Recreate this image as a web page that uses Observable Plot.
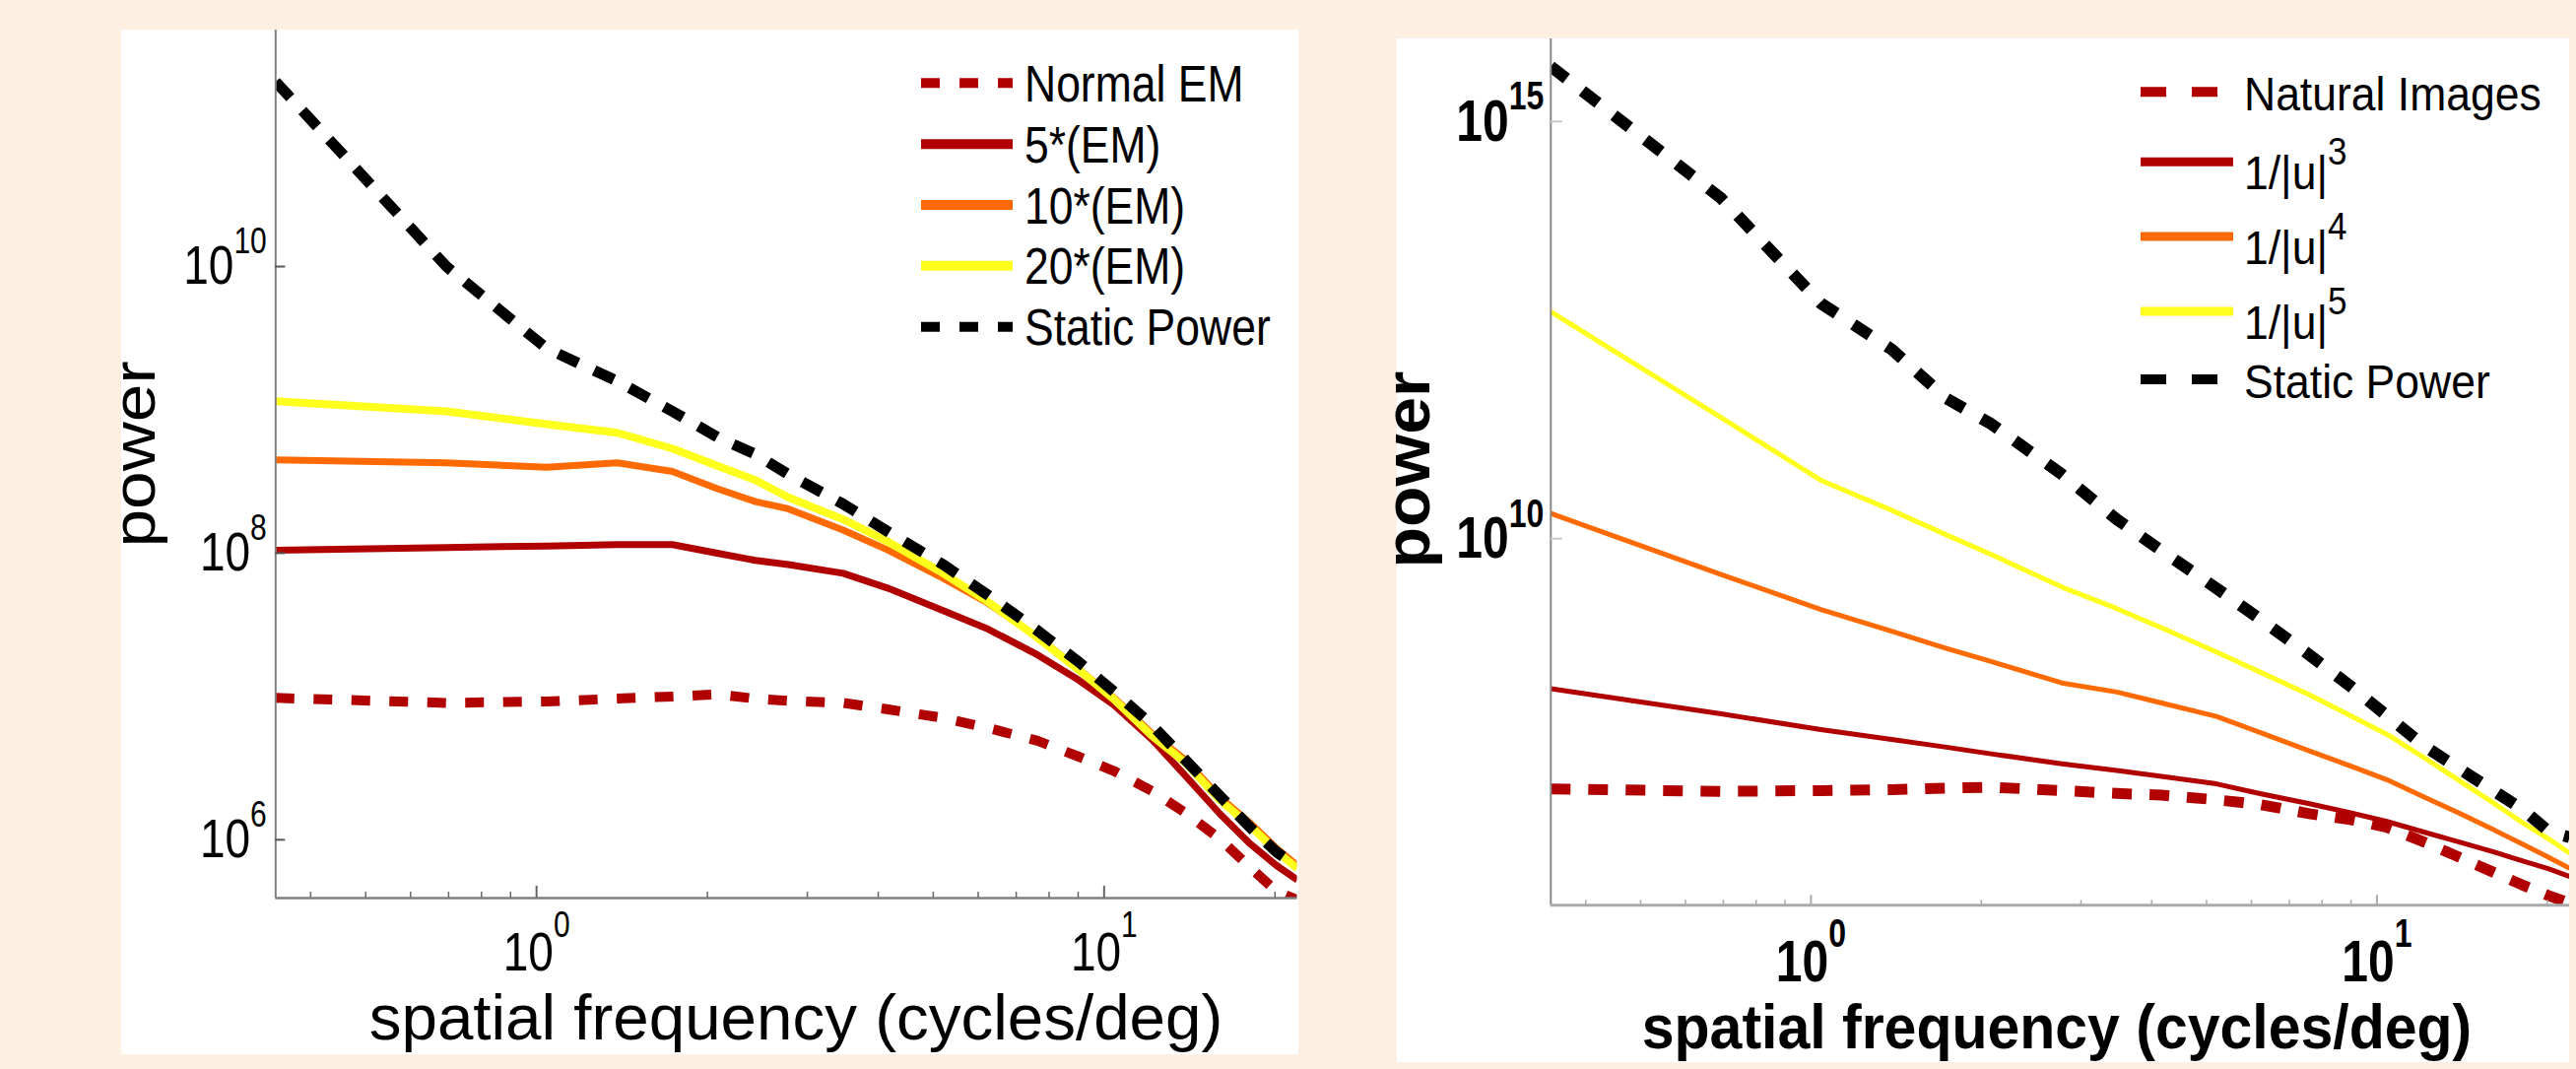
<!DOCTYPE html>
<html><head><meta charset="utf-8">
<script src="https://cdn.jsdelivr.net/npm/d3@7"></script>
<script src="https://cdn.jsdelivr.net/npm/@observablehq/plot@0.6"></script>
<style>
html,body{margin:0;padding:0;background:#fdf0e3;}
#root{position:relative;width:2615px;height:1085px;background:#fdf0e3;overflow:hidden;}
#root svg{position:absolute;display:block;}
</style></head><body><div id="root"></div>
<script>
// ---------------- DATA ----------------
// Left panel: spatial frequency (cycles/deg) and power
const freqLeft = [0.347, 0.694, 1.041, 1.388, 1.735, 2.082, 2.429, 2.776, 3.47, 4.164, 5.205, 6.246, 7.634, 9.022, 10.41, 12.145, 13.88, 15.962, 18.044, 20.126, 21.9];
const normalEM = [9.77e6, 9.02e6, 9.23e6, 9.66e6, 1.0e7, 1.035e7, 9.66e6, 9.33e6, 9.02e6, 8.13e6, 7.08e6, 6.03e6, 4.9e6, 3.8e6, 3.02e6, 2.19e6, 1.55e6, 1.02e6, 6.46e5, 4.37e5, 3.8e5];
const em5 = [1.047e8, 1.096e8, 1.122e8, 1.148e8, 1.148e8, 1.0e8, 8.91e7, 8.32e7, 7.24e7, 5.69e7, 3.98e7, 2.95e7, 1.95e7, 1.3e7, 8.71e6, 5.01e6, 2.82e6, 1.53e6, 9.44e5, 6.61e5, 5.25e5];
const em10 = [4.47e8, 4.27e8, 3.98e8, 4.27e8, 3.72e8, 2.82e8, 2.29e8, 2.04e8, 1.45e8, 1.05e8, 6.68e7, 4.47e7, 2.6e7, 1.55e7, 9.77e6, 5.5e6, 3.63e6, 2.0e6, 1.32e6, 8.71e5, 6.61e5];
const em20 = [1.148e9, 9.77e8, 7.94e8, 6.92e8, 5.37e8, 4.07e8, 3.24e8, 2.45e8, 1.72e8, 1.2e8, 7.24e7, 4.57e7, 2.57e7, 1.53e7, 9.55e6, 5.31e6, 3.47e6, 1.91e6, 1.26e6, 8.32e5, 6.31e5];
const staticLeft = [1.95e11, 1.0e10, 2.69e9, 1.585e9, 9.77e8, 6.46e8, 4.9e8, 3.55e8, 2.2e8, 1.41e8, 8.32e7, 5.09e7, 2.88e7, 1.74e7, 1.08e7, 6.31e6, 3.63e6, 2.04e6, 1.23e6, 8.22e5, 6.46e5];

// Right panel
const freqRight = [0.347, 0.694, 1.041, 1.388, 1.735, 2.082, 2.776, 3.47, 4.164, 5.205, 6.246, 7.634, 9.022, 10.41, 12.145, 13.88, 15.962, 18.044, 20.126, 21.9];
const naturalImages = [1.0e7, 9.33e6, 9.55e6, 9.77e6, 1.023e7, 1.047e7, 9.55e6, 8.81e6, 8.41e6, 7.41e6, 6.46e6, 5.01e6, 4.27e6, 3.47e6, 2.29e6, 1.55e6, 1.02e6, 7.08e5, 5.25e5, 4.27e5];
const invU3 = [1.585e8, 7.94e7, 5.13e7, 3.91e7, 3.16e7, 2.63e7, 2.0e7, 1.66e7, 1.41e7, 1.15e7, 8.71e6, 6.61e6, 5.13e6, 4.07e6, 3.02e6, 2.34e6, 1.78e6, 1.38e6, 1.1e6, 8.91e5];
const invU4 = [2.0e10, 3.72e9, 1.41e9, 7.76e8, 4.83e8, 3.36e8, 1.86e8, 1.45e8, 1.07e8, 7.41e7, 4.68e7, 2.82e7, 1.86e7, 1.29e7, 7.94e6, 5.25e6, 3.31e6, 2.19e6, 1.51e6, 1.12e6];
const invU5 = [5.25e12, 2.82e11, 5.01e10, 2.19e10, 1.11e10, 6.46e9, 2.63e9, 1.45e9, 8.51e8, 4.37e8, 2.48e8, 1.32e8, 7.41e7, 4.53e7, 2.34e7, 1.3e7, 6.98e6, 3.98e6, 2.51e6, 1.7e6];
const staticRight = [4.57e15, 1.2e14, 6.61e12, 1.86e12, 4.79e11, 2.37e11, 5.89e10, 1.7e10, 7.16e9, 2.54e9, 1.06e9, 3.94e8, 1.66e8, 7.57e7, 3.24e7, 1.8e7, 9.77e6, 5.75e6, 3.09e6, 2.63e6];

// Ticks and labels
const xDomain = [0.347, 21.9];
const yDomainLeft = [3.92e5, 4.47e11];
const yDomainRight = [4.03e5, 9.77e15];
const yTicksLeft = [1e6, 1e8, 1e10];
const yTicksRight = [1e10, 1e15];
const xMajorTicks = [1, 10];
const xMinorTicks = [0.4, 0.5, 0.6, 0.7, 0.8, 0.9, 2, 3, 4, 5, 6, 7, 8, 9, 20];
const legendLeftLabels = ["Normal EM", "5*(EM)", "10*(EM)", "20*(EM)", "Static Power"];
const legendRightLabels = ["Natural Images", "1/|u|", "1/|u|", "1/|u|", "Static Power"];
const legendRightSup = ["", "3", "4", "5", ""];
const xTitle = "spatial frequency (cycles/deg)";
const yTitle = "power";

// ---------------- STYLE ----------------
const DARKRED = "#b00000", ORANGE = "#ff6a00", YELLOW = "#ffff1e", BLACK = "#000000";
const FONT = '"Liberation Sans", Arial, Helvetica, sans-serif';
const NS = "http://www.w3.org/2000/svg";
const root = document.getElementById("root");

const leftSeries = [
  {key: legendLeftLabels[0], values: normalEM, color: DARKRED, width: 10, dash: "19,19.5"},
  {key: legendLeftLabels[1], values: em5, color: DARKRED, width: 7},
  {key: legendLeftLabels[2], values: em10, color: ORANGE, width: 7},
  {key: legendLeftLabels[3], values: em20, color: YELLOW, width: 8},
  {key: legendLeftLabels[4], values: staticLeft, color: BLACK, width: 11, dash: "22,18"}
];
const rightSeries = [
  {key: "Natural Images", values: naturalImages, color: DARKRED, width: 11, dash: "20,18"},
  {key: "u3", values: invU3, color: DARKRED, width: 5},
  {key: "u4", values: invU4, color: ORANGE, width: 5},
  {key: "u5", values: invU5, color: YELLOW, width: 5},
  {key: "Static Power", values: staticRight, color: BLACK, width: 12, dash: "20,20.5"}
];

const fmt = d => `10^${Math.round(Math.log10(d))}`;

function superscript(svg, which, {supSize, rise, scaleY}) {
  svg.querySelectorAll(`g[aria-label="${which}-axis tick label"] text`).forEach(t => {
    const [base, exp] = t.textContent.split("^");
    while (t.firstChild) t.removeChild(t.firstChild);
    const a = document.createElementNS(NS, "tspan"); a.textContent = base; t.appendChild(a);
    const b = document.createElementNS(NS, "tspan"); b.textContent = exp;
    b.setAttribute("dy", -rise); b.setAttribute("font-size", supSize); t.appendChild(b);
    t.setAttribute("transform", (t.getAttribute("transform") || "") + ` scale(1,${scaleY})`);
  });
}

function makePanel(c) {
  const frameW = c.width - c.marginLeft - c.marginRight;
  const frameH = c.height - c.marginBottom;
  const data = c.series.flatMap(s => c.freq.map((f, i) => ({f, p: s.values[i], key: s.key})));
  const marks = [
    ...c.series.map(s => Plot.line(data.filter(d => d.key === s.key), {
      x: "f", y: "p", stroke: s.color, strokeWidth: s.width,
      strokeDasharray: s.dash, strokeLinejoin: "round", strokeLinecap: "butt", clip: true
    })),
    Plot.ruleX([c.xDomain[0]], {stroke: c.axisColor, strokeWidth: 2}),
    Plot.ruleY([c.yDomain[0]], {stroke: c.xAxisColor, strokeWidth: c.xAxisWidth}),
    Plot.ruleY(c.yTicks, {insetRight: frameW - c.yTickLen, stroke: c.yTickColor, strokeWidth: 2}),
    Plot.ruleX(xMajorTicks, {insetTop: frameH - c.xMajorLen, stroke: c.xTickColor, strokeWidth: 2}),
    Plot.ruleX(xMinorTicks, {insetTop: frameH - c.xMinorLen, stroke: c.xTickColor, strokeWidth: 1.5}),
    Plot.axisY(c.yTicks, {anchor: "left", tickSize: 0, tickPadding: c.yPad, tickFormat: fmt,
      fontSize: c.tickFont, fontWeight: c.weight, fill: "#000", label: null}),
    Plot.axisX(xMajorTicks, {anchor: "bottom", tickSize: 0, tickPadding: c.xPad, tickFormat: fmt,
      fontSize: c.tickFont, fontWeight: c.weight, fill: "#000", label: null})
  ];
  const svg = Plot.plot({
    width: c.width, height: c.height,
    marginLeft: c.marginLeft, marginRight: c.marginRight, marginTop: 0, marginBottom: c.marginBottom,
    style: {background: "#ffffff", fontFamily: FONT, overflow: "visible"},
    x: {type: "log", domain: c.xDomain, label: null},
    y: {type: "log", domain: c.yDomain, label: null},
    marks
  });
  svg.style.left = c.left + "px";
  svg.style.top = c.top + "px";
  svg.style.maxWidth = "none";
  superscript(svg, "y", c.supY);
  superscript(svg, "x", c.supX);
  root.appendChild(svg);
}

makePanel({
  left: 123, top: 30, width: 1195, height: 1040,
  marginLeft: 156.3, marginRight: 1.5, marginBottom: 159,
  freq: freqLeft, series: leftSeries, xDomain, yDomain: yDomainLeft, yTicks: yTicksLeft,
  axisColor: "#808080", xAxisColor: "#808080", xAxisWidth: 2.5,
  yTickColor: "#555", xTickColor: "#666", yTickLen: 10, xMajorLen: 12, xMinorLen: 6,
  tickFont: 46, weight: "normal", yPad: 9, xPad: 34,
  supY: {supSize: 30, rise: 26, scaleY: 1.2},
  supX: {supSize: 30, rise: 28, scaleY: 1.2}
});

makePanel({
  left: 1418, top: 39, width: 1190, height: 1039,
  marginLeft: 155.8, marginRight: 0, marginBottom: 159.7,
  freq: freqRight, series: rightSeries, xDomain, yDomain: yDomainRight, yTicks: yTicksRight,
  axisColor: "#888", xAxisColor: "#aaa", xAxisWidth: 3,
  yTickColor: "#c8c8c8", xTickColor: "#aaa", yTickLen: 12, xMajorLen: 10, xMinorLen: 5,
  tickFont: 48, weight: "bold", yPad: 7, xPad: 35,
  supY: {supSize: 32, rise: 25, scaleY: 1.25},
  supX: {supSize: 32, rise: 28, scaleY: 1.25}
});

// ---------------- TITLES & LEGENDS (overlay) ----------------
const ov = d3.select(root).append("svg")
  .attr("width", 2615).attr("height", 1085)
  .style("left", "0px").style("top", "0px")
  .style("font-family", FONT).style("pointer-events", "none");

// axis titles
ov.append("text").attr("x", 808).attr("y", 1055).attr("text-anchor", "middle")
  .attr("font-size", 65.5).text(xTitle);
ov.append("text").attr("transform", "translate(157,461) rotate(-90) scale(1.12,1)")
  .attr("text-anchor", "middle").attr("font-size", 62).text(yTitle);
ov.append("text").attr("transform", "translate(2088,1064) scale(1,1.08)").attr("text-anchor", "middle")
  .attr("font-size", 59).attr("font-weight", "bold").text(xTitle);
ov.append("text").attr("transform", "translate(1451,476.5) rotate(-90) scale(1.06,1)")
  .attr("text-anchor", "middle").attr("font-size", 64).attr("font-weight", "bold").text(yTitle);

// left legend
const legL = {x1: 935, x2: 1028, tx: 1040, y0: 84.3, step: 61.85};
leftSeries.forEach((s, i) => {
  const y = legL.y0 + i * legL.step;
  ov.append("line").attr("x1", legL.x1).attr("x2", legL.x2).attr("y1", y).attr("y2", y)
    .attr("stroke", s.color).attr("stroke-width", 10)
    .attr("stroke-dasharray", s.dash ? "19,20" : null);
  ov.append("text").attr("transform", `translate(${legL.tx},${y + 18.5}) scale(1,1.15)`)
    .attr("font-size", 44.5).attr("fill", "#000").text(legendLeftLabels[i]);
});

// right legend
const legRY = [93.3, 164.3, 240, 316, 385];
rightSeries.forEach((s, i) => {
  const y = legRY[i];
  ov.append("line").attr("x1", 2173).attr("x2", 2267).attr("y1", y).attr("y2", y)
    .attr("stroke", s.color).attr("stroke-width", s.dash ? 10 : 9)
    .attr("stroke-dasharray", s.dash ? "26,26" : null);
  const sup = legendRightSup[i];
  const t = ov.append("text")
    .attr("transform", `translate(2278,${y + (sup ? 27.5 : 18.5)}) scale(1,1.1)`)
    .attr("font-size", 44.5).attr("fill", "#000");
  t.append("tspan").text(legendRightLabels[i]);
  if (sup) t.append("tspan").attr("dy", -22.5).attr("font-size", 35).text(sup);
});
</script>
</body></html>
